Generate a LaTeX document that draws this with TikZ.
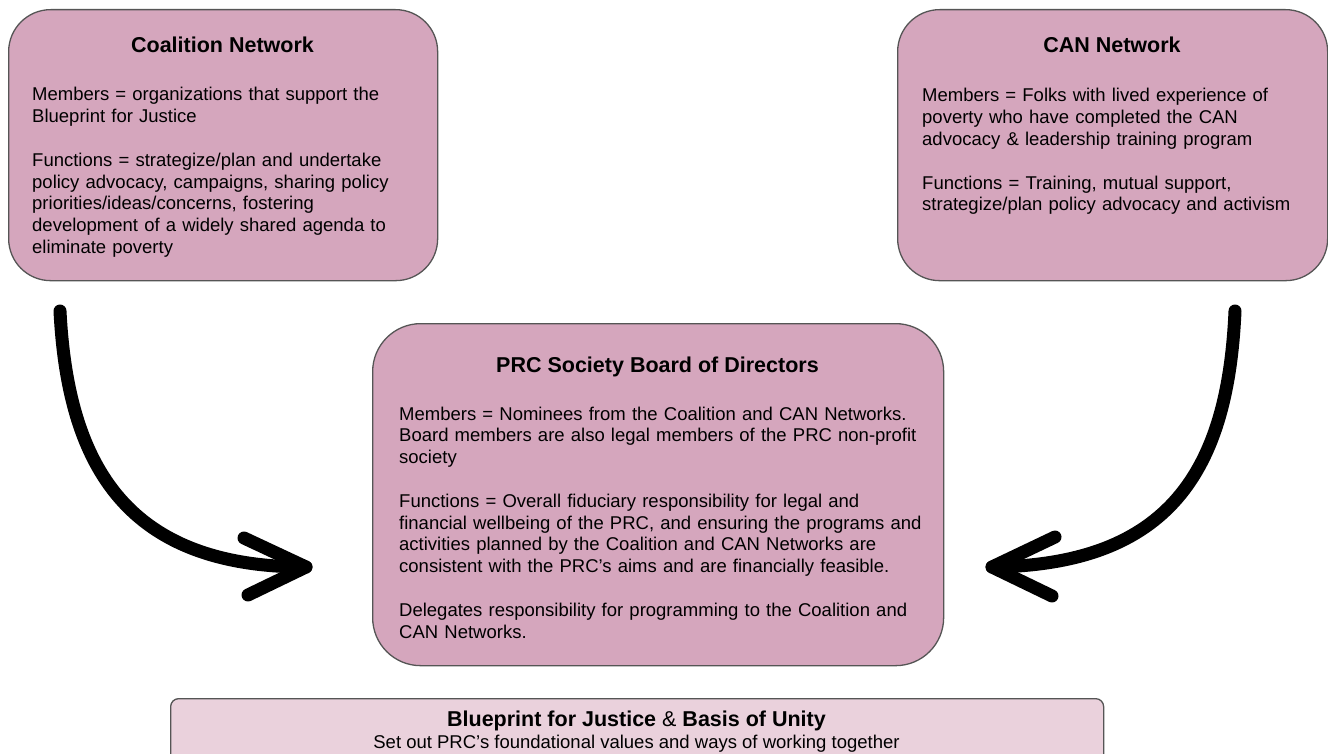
\documentclass[tikz,border=0pt]{standalone}
\usepackage{fontspec}
\setmainfont{Liberation Sans}
\usetikzlibrary{calc}
\definecolor{boxfill}{HTML}{D5A6BD}
\definecolor{basefill}{HTML}{EAD1DC}
\definecolor{boxline}{HTML}{555555}
\tikzset{
  bigbox/.style={draw=boxline, line width=1.3pt, fill=boxfill, rounded corners=#1, inner sep=0pt, anchor=north west},
  ttl/.style={font=\fontsize{21.5}{25}\selectfont\bfseries, anchor=base, inner sep=0pt},
  bodytxt/.style={font=\fontsize{18.5}{21.8}\selectfont, anchor=base west, inner sep=0pt, align=left, text width=#1},
  subtxt/.style={font=\fontsize{18.5}{21.8}\selectfont, anchor=base, inner sep=0pt},
  arrowline/.style={line width=13pt, line cap=round, line join=round, draw=black},
}
\begin{document}
\begin{tikzpicture}[x=1pt, y=-1pt]
\useasboundingbox (0,0) rectangle (1328,754);
\fill[white] (0,0) rectangle (1328,754);
\clip (0,0) rectangle (1328,754);

% boxes
\node[bigbox=42pt, minimum width=429pt, minimum height=271pt] (coal) at (8,9) {};
\node[bigbox=42pt, minimum width=430pt, minimum height=271pt] (can) at (897,9) {};
\node[bigbox=48pt, minimum width=571pt, minimum height=342pt] (prc) at (372,323) {};
\node[bigbox=8pt, minimum width=933pt, minimum height=90pt, fill=basefill] (base) at (170,698) {};

% Coalition text
\node[ttl] (coalT) at (222.5,53) {Coalition Network};
\node[bodytxt=420pt] (coalB) at (32,101) {Members = organizations that support the\\
Blueprint for Justice\\[21.8pt]
Functions = strategize/plan and undertake\\
policy advocacy, campaigns, sharing policy\\
priorities/ideas/concerns, fostering\\
development of a widely shared agenda to\\
eliminate poverty};

% CAN text
\node[ttl] (canT) at (1112,53) {CAN Network};
\node[bodytxt=420pt] (canB) at (922,102) {Members = Folks with lived experience of\\
poverty who have completed the CAN\\
advocacy \& leadership training program\\[21.8pt]
Functions = Training, mutual support,\\
strategize/plan policy advocacy and activism};

% PRC text
\node[ttl] (prcT) at (657.5,372) {PRC Society Board of Directors};
\node[bodytxt=560pt] (prcB) at (399,420) {Members = Nominees from the Coalition and CAN Networks.\\
Board members are also legal members of the PRC non-profit\\
society\\[21.8pt]
Functions = Overall fiduciary responsibility for legal and\\
financial wellbeing of the PRC, and ensuring the programs and\\
activities planned by the Coalition and CAN Networks are\\
consistent with the PRC’s aims and are financially feasible.\\[21.8pt]
Delegates responsibility for programming to the Coalition and\\
CAN Networks.};

% Blueprint text
\node[ttl] (baseT) at (636.5,726) {Blueprint for Justice \textmd{\&} Basis of Unity};
\node[subtxt] (baseS) at (636.5,748) {Set out PRC’s foundational values and ways of working together};

% arrows
\coordinate (lS) at (60,311);
\coordinate (lT) at (306,567);
\coordinate (lU) at (244,538);
\coordinate (lL) at (248,595);
\draw[arrowline] (lS) .. controls (68,470) and (130,567) .. (lT);
\draw[arrowline] (lU) -- (lT) -- (lL);

\coordinate (rS) at (1235,311);
\coordinate (rT) at (992,567);
\coordinate (rU) at (1055,537);
\coordinate (rL) at (1052,596);
\draw[arrowline] (rS) .. controls (1228,470) and (1170,565) .. (rT);
\draw[arrowline] (rU) -- (rT) -- (rL);
\end{tikzpicture}
\end{document}
